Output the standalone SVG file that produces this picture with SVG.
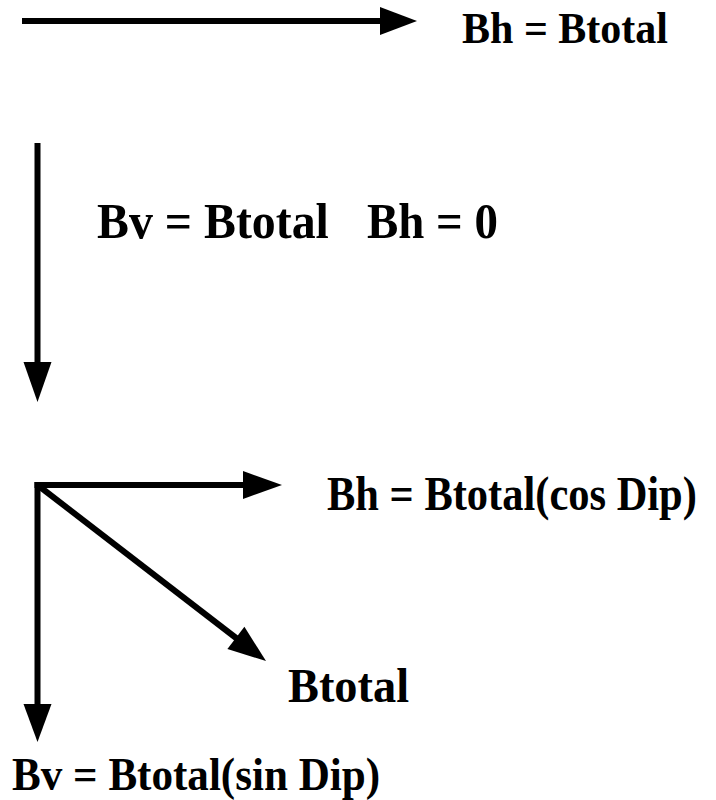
<svg xmlns="http://www.w3.org/2000/svg" width="716" height="800" viewBox="0 0 716 800">
<style>
.t{font-family:"Liberation Serif","Times New Roman",serif;font-weight:bold;fill:#000}
.c{stroke:#000;stroke-width:6;fill:none}
.h{fill:#000;stroke:none}
</style>
<rect width="716" height="800" fill="#fff"/>
<g id="connectors">
<line class="c" x1="22" y1="21" x2="386" y2="21"/>
<polygon class="h" points="380,7 417,21 380,35"/>
<line class="c" x1="37.5" y1="143" x2="37.5" y2="366"/>
<polygon class="h" points="23.5,362 51.5,362 37.5,402"/>
<line class="c" x1="34.5" y1="485" x2="248" y2="485"/>
<polygon class="h" points="243,471 282,485 243,499"/>
<line class="c" x1="37.5" y1="482" x2="37.5" y2="708"/>
<polygon class="h" points="23.5,704 51.5,704 37.5,742"/>
<line class="c" x1="37.5" y1="485" x2="240" y2="641"/>
<polygon class="h" points="227.4,649 244.4,626.8 266,661"/>
</g>
<g id="label-bh-btotal"><text class="t" font-size="44" transform="translate(462,43) scale(0.955,1)">Bh = Btotal</text></g>
<g id="label-bv-btotal"><text class="t" font-size="50" transform="translate(97,238) scale(0.957,1)">Bv = Btotal</text></g>
<g id="label-bh-0"><text class="t" font-size="50" transform="translate(367,238) scale(0.938,1)">Bh = 0</text></g>
<g id="label-bh-cos"><text class="t" font-size="48" transform="translate(327,510) scale(0.885,1)">Bh = Btotal(cos Dip)</text></g>
<g id="label-btotal"><text class="t" font-size="48" transform="translate(288,702) scale(0.966,1)">Btotal</text></g>
<g id="label-bv-sin"><text class="t" font-size="47" transform="translate(12,790) scale(0.917,1)">Bv = Btotal(sin Dip)</text></g>
</svg>
